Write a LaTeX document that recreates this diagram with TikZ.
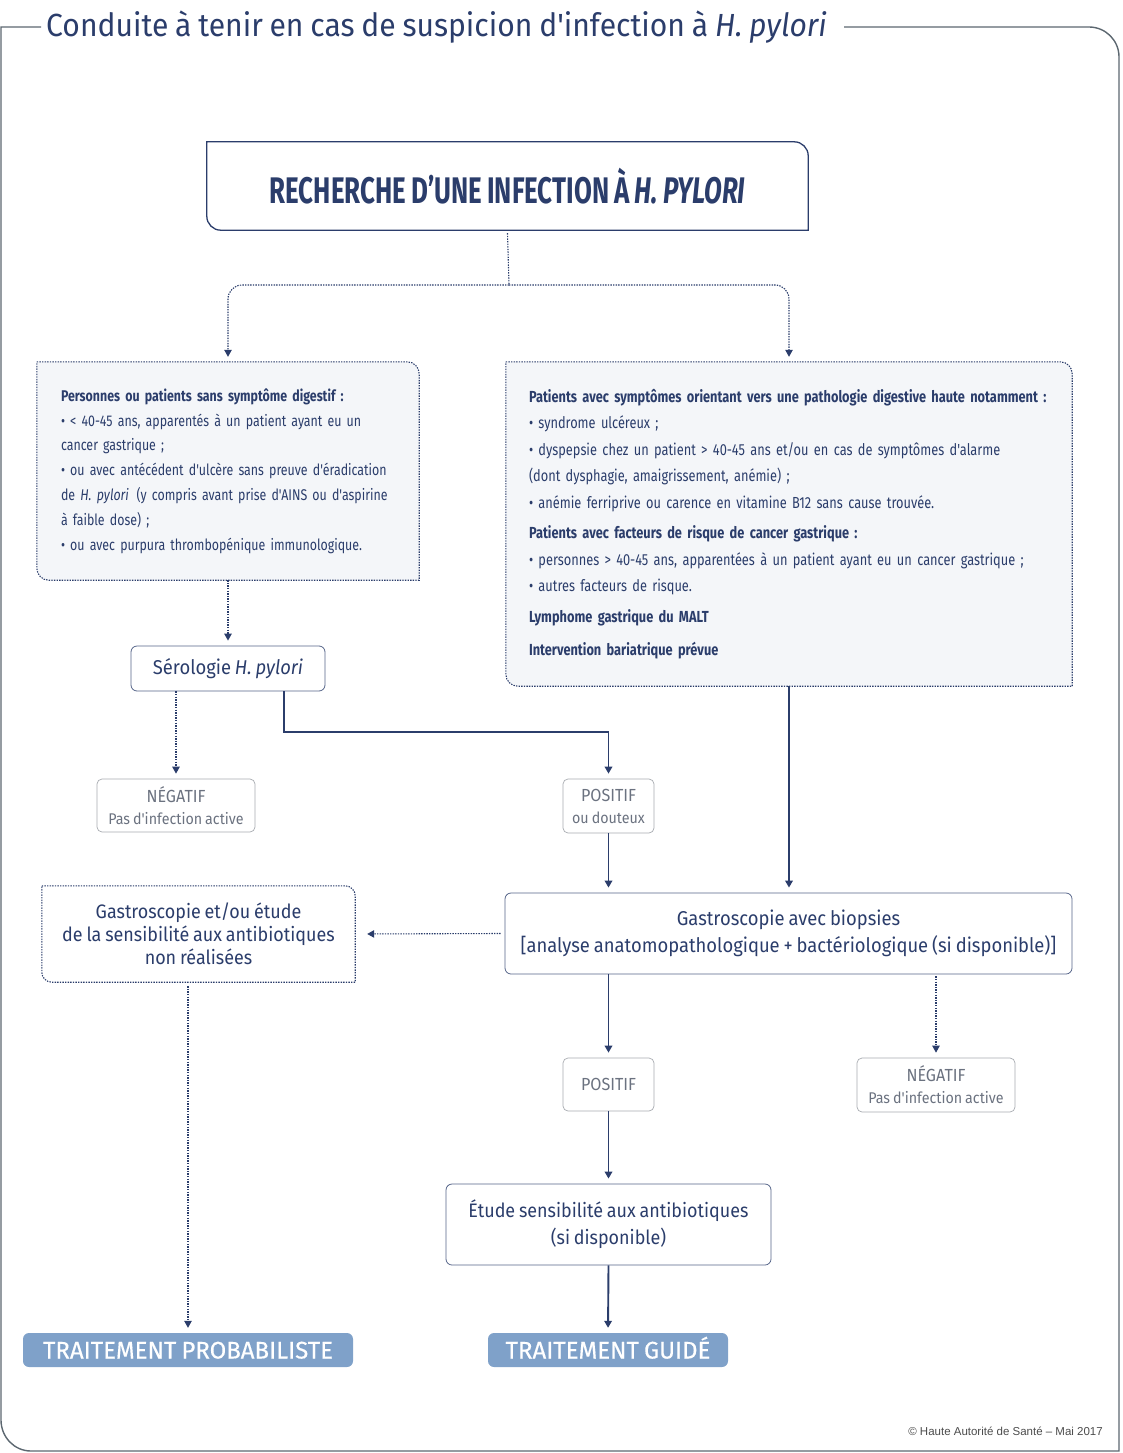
\documentclass[tikz,border=0pt]{standalone}
\usepackage{fontspec}
\setmainfont{Fira Sans}
\newfontfamily\condfont[FakeStretch=0.8, WordSpace=0.75]{Fira Sans}
\newfontfamily\midfont[FakeStretch=0.92, WordSpace=0.8]{Fira Sans}
\newfontfamily\narrowfont[FakeStretch=0.7, WordSpace=0.85]{Fira Sans}
\newfontfamily\titlefont[FakeStretch=0.94, WordSpace=0.85]{Fira Sans}
\newfontfamily\btnfont[FakeBold=0.4, WordSpace=0.8]{Fira Sans}
\newfontfamily\credfont{Liberation Sans}
\usetikzlibrary{arrows.meta, backgrounds, calc}

\definecolor{hasnavy}{HTML}{2B3D6B}
\definecolor{txtgray}{HTML}{6B7280}
\definecolor{linegray}{HTML}{A7ABB0}
\definecolor{boxfill}{HTML}{F4F6F9}
\definecolor{btnblue}{HTML}{7FA1C9}
\definecolor{framegray}{HTML}{5C6770}

% box with rounded top-right and bottom-left corners
\newcommand{\cutbox}[3][]{%
  \begin{scope}[on background layer]
  \filldraw[#1] (#2.north west) -- ([xshift=-#3]#2.north east)
    to[out=0,in=90] ([yshift=-#3]#2.north east) -- (#2.south east)
    -- ([xshift=#3]#2.south west) to[out=180,in=270] ([yshift=#3]#2.south west) -- cycle;
  \end{scope}}

\tikzset{
  dotline/.style={hasnavy, line width=1.1pt, dash pattern=on 1.4pt off 1.2pt},
  dotarrow/.style={dotline, -{Triangle[length=7pt,width=7.5pt]}, shorten >=5pt},
  solidarrow/.style={hasnavy, line width=1.9pt, -{Triangle[length=7pt,width=7.5pt]}, shorten >=5pt},
  graybox/.style={draw=linegray, line width=0.7pt, rounded corners=5pt, inner sep=0pt,
    text=txtgray, align=center, font=\midfont\fontsize{15.5}{22}\selectfont},
  navybox/.style={draw=hasnavy!80, line width=0.8pt, rounded corners=6pt, inner sep=0pt,
    text=hasnavy, align=center, font=\midfont\fontsize{19.5}{27}\selectfont},
  plainbox/.style={inner sep=0pt, text=hasnavy},
  btn/.style={fill=btnblue, rounded corners=6pt, inner sep=0pt, text=white,
    minimum height=34pt, text height=17pt, text depth=0pt,
    font=\btnfont\fontsize{24}{26}\selectfont},
}

\begin{document}
\begin{tikzpicture}[x=1pt, y=-1pt]
\useasboundingbox (0,0) rectangle (1123,1453);

% title and frame
\node[anchor=west, inner xsep=5pt, text=hasnavy, font=\titlefont\fontsize{32}{34}\selectfont] (title) at (41,27)
  {Conduite à tenir en cas de suspicion d'infection à \textit{H. pylori}};
\draw[framegray, line width=1.4pt] (title.west) -- (1,27) -- (1,1420) to[out=270,in=180] (31,1451)
  -- (1119,1451) -- (1119,57) to[out=90,in=0] (1089,27) -- ([xshift=12pt]title.east);

% main box
\node[plainbox, minimum width=601pt, minimum height=88pt,
  font=\narrowfont\bfseries\fontsize{37}{40}\selectfont] (main) at (507.5,186)
  {RECHERCHE D’UNE INFECTION À \textit{H. PYLORI}};
\cutbox[draw=hasnavy, line width=1.3pt, fill=white]{main}{14pt}

% left box
\node[plainbox, minimum width=382pt, minimum height=218pt, text width=334pt, align=left,
  font=\condfont\fontsize{15.5}{24.8}\selectfont] (lbox) at (228,471)
  {\textbf{Personnes ou patients sans symptôme digestif :}\\
   • < 40-45 ans, apparentés à un patient ayant eu un\\
   cancer gastrique ;\\
   • ou avec antécédent d'ulcère sans preuve d'éradication\\
   de \textit{H. pylori}\, (y compris avant prise d'AINS ou d'aspirine\\
   à faible dose) ;\\
   • ou avec purpura thrombopénique immunologique.};
\cutbox[dotline, fill=boxfill]{lbox}{12pt}

% right box
\node[plainbox, minimum width=566pt, minimum height=324pt, text width=520pt, align=left,
  font=\condfont\fontsize{16}{26.5}\selectfont] (rbox) at (789,524)
  {\textbf{Patients avec symptômes orientant vers une pathologie digestive haute notamment :}\\
   • syndrome ulcéreux ;\\
   • dyspepsie chez un patient > 40-45 ans et/ou en cas de symptômes d'alarme\\
   (dont dysphagie, amaigrissement, anémie) ;\\
   • anémie ferriprive ou carence en vitamine B12 sans cause trouvée.\\[4pt]
   \textbf{Patients avec facteurs de risque de cancer gastrique :}\\
   • personnes > 40-45 ans, apparentées à un patient ayant eu un cancer gastrique ;\\
   • autres facteurs de risque.\\[4pt]
   \textbf{Lymphome gastrique du MALT}\\[7pt]
   \textbf{Intervention bariatrique prévue}};
\cutbox[dotline, fill=boxfill]{rbox}{12pt}

% serology branch
\node[navybox, minimum width=194pt, minimum height=45pt, font=\midfont\fontsize{20}{24}\selectfont] (sero) at (228,668.5)
  {Sérologie \textit{H. pylori}};
\node[graybox, minimum width=158pt, minimum height=53pt] (neg1) at (176,805.5)
  {{\fontsize{17.5}{20}\selectfont NÉGATIF}\\Pas d'infection active};
\node[graybox, minimum width=91pt, minimum height=54pt] (pos1) at (608.5,806)
  {{\fontsize{17.5}{20}\selectfont POSITIF}\\ou douteux};

% gastroscopy
\node[navybox, minimum width=567pt, minimum height=81pt, font=\midfont\fontsize{20}{27}\selectfont] (gbio) at (788.5,933.5)
  {Gastroscopie avec biopsies\\{[}analyse anatomopathologique + bactériologique (si disponible)]};
\node[plainbox, minimum width=313pt, minimum height=96pt, align=center,
  font=\midfont\fontsize{19.5}{23}\selectfont] (gnr) at (198.5,934)
  {Gastroscopie et/ou étude\\de la sensibilité aux antibiotiques\\non réalisées};
\cutbox[dotline, fill=white]{gnr}{10pt}

\node[graybox, minimum width=91pt, minimum height=53pt, font=\midfont\fontsize{17.5}{20}\selectfont] (pos2) at (608.5,1084.5) {POSITIF};
\node[graybox, minimum width=158pt, minimum height=54pt] (neg2) at (936,1085)
  {{\fontsize{17.5}{20}\selectfont NÉGATIF}\\Pas d'infection active};
\node[navybox, minimum width=325pt, minimum height=81pt] (etude) at (608.5,1224.5)
  {Étude sensibilité aux antibiotiques\\(si disponible)};

% treatments
\node[btn, minimum width=330pt] (tprob) at (188,1350) {TRAITEMENT PROBABILISTE};
\node[btn, minimum width=240pt] (tguide) at (608,1350) {TRAITEMENT GUIDÉ};

\node[anchor=east, inner sep=0pt, text=black!70, font=\credfont\fontsize{11.5}{13}\selectfont] (credit) at (1103,1431)
  {© Haute Autorité de Santé – Mai 2017};

% connectors
\coordinate (split) at (509,285);
\draw[dotline] ([yshift=-3pt]main.south) -- (split);
\draw[dotarrow, rounded corners=14pt] (split) -| (lbox.north);
\draw[dotarrow, rounded corners=14pt] (split) -| (rbox.north);
\draw[dotarrow] (lbox.south) -- (sero.north);
\draw[dotarrow] (neg1.north |- sero.south) -- (neg1.north);
\draw[solidarrow] ([xshift=56pt]sero.south) -- ++(0,41) -| (pos1.north);
\draw[solidarrow] (pos1.south) -- (pos1.south |- gbio.north);
\draw[solidarrow] (rbox.south) -- (rbox.south |- gbio.north);
\draw[dotarrow, shorten >=12pt] ([xshift=-4pt]gbio.west) -- (gnr.east);
\draw[dotarrow] ([yshift=-4pt]tprob.north |- gnr.south) -- (tprob.north);
\draw[solidarrow] (pos2.north |- gbio.south) -- (pos2.north);
\draw[dotarrow] ([yshift=-2pt]neg2.north |- gbio.south) -- (neg2.north);
\draw[solidarrow] (pos2.south) -- (etude.north);
\draw[solidarrow] (etude.south) -- (tguide.north);
\end{tikzpicture}
\end{document}
